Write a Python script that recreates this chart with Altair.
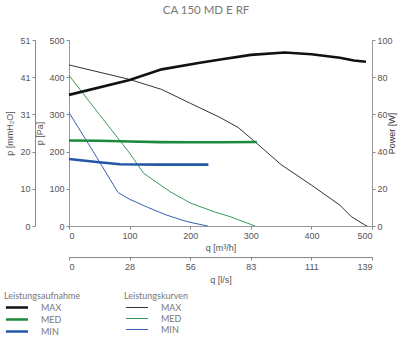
import altair as alt
import pandas as pd

# ---- data ----
series_order = ["MAX", "MED", "MIN"]

# Pressure curves (Leistungskurven), q [m3/h] -> p [Pa]
q_p_max = [0, 100, 153, 200, 249, 279, 310, 350, 400, 447, 466, 488, 492]
p_max = [433, 394, 367, 330, 292, 265, 222, 165, 110, 56, 25, 3, 0]
q_p_med = [0, 50, 100, 123, 167, 200, 240, 266, 307]
p_med = [405, 300, 196, 142, 92, 62, 38, 25, 0]
q_p_min = [0, 40, 81, 100, 130, 160, 190, 205, 229]
p_min = [305, 200, 90, 72, 50, 30, 14, 8, 0]

# Power curves (Leistungsaufnahme), q [m3/h] -> W
q_w_max = [0, 100, 153, 216, 250, 300, 356, 400, 447, 470, 490]
w_max = [70.5, 78.5, 84.2, 87.8, 89.5, 92, 93.3, 92.3, 90.5, 89, 88.3]
q_w_med = [0, 50, 100, 150, 200, 250, 310]
w_med = [46, 45.8, 45.4, 45.1, 45, 45, 45.2]
q_w_min = [0, 50, 84, 150, 230]
w_min = [36, 34.3, 33.2, 33, 33]

# axis tick values / labels
q_ticks = [0, 50, 100, 150, 200, 250, 300, 350, 400, 450, 500]
p_ticks = [0, 50, 100, 150, 200, 250, 300, 350, 400, 450, 500]
w_ticks = [0, 20, 40, 60, 80, 100]
ls_ticks = [0, 27.78, 55.56, 83.33, 111.11, 138.89]   # labels 0 28 56 83 111 139
mm_ticks = [0, 10.197, 20.394, 30.591, 40.789, 50.986]  # labels 0 10 20 31 41 51
ls_max = 138.89
mm_max = 50.986

thick_colors = ["#111111", "#1c8a3c", "#2456a8"]
thin_colors = ["#333333", "#3a9a58", "#3a60b2"]


def frame(qs, vs, name, col, key):
    return pd.DataFrame({"q": qs, col: vs, key: name, "idx": range(len(qs))})


pressure_df = pd.concat([
    frame(q_p_max, p_max, "MAX", "p", "kurve"),
    frame(q_p_med, p_med, "MED", "p", "kurve"),
    frame(q_p_min, p_min, "MIN", "p", "kurve"),
])
power_df = pd.concat([
    frame(q_w_max, w_max, "MAX", "w", "aufnahme"),
    frame(q_w_med, w_med, "MED", "w", "aufnahme"),
    frame(q_w_min, w_min, "MIN", "w", "aufnahme"),
])
aux_df = pd.DataFrame({"ls": [0, ls_max], "mm": [0, mm_max]})

AX_FONT = "Liberation Sans"
LBL = "#555555"
major = "datum.value % 100 === 0"
LINE_SYMBOL = "M-1,0H7.5"  # horizontal line used as legend symbol

pressure = alt.Chart(pressure_df).mark_line(strokeWidth=1).encode(
    x=alt.X("q:Q", scale=alt.Scale(domain=[0, 500], nice=False),
            axis=alt.Axis(values=q_ticks, title="q [m³/h]", orient="bottom",
                          labelExpr="datum.value % 100 === 0 ? datum.label : ''",
                          tickColor={"condition": {"test": major, "value": "#888888"}, "value": "transparent"},
                          gridColor={"condition": {"test": major, "value": "#9a9a9a"}, "value": "#dddddd"},
                          domainColor="#999999", tickSize=3, labelPadding=2, titlePadding=3)),
    y=alt.Y("p:Q", scale=alt.Scale(domain=[0, 500], nice=False),
            axis=alt.Axis(values=p_ticks, title="p [Pa]", orient="left",
                          labelExpr="datum.value % 100 === 0 ? datum.label : ''",
                          tickColor={"condition": {"test": major, "value": "#888888"}, "value": "transparent"},
                          gridColor={"condition": {"test": major, "value": "#9a9a9a"}, "value": "#dddddd"},
                          domainColor="#999999", tickSize=3, labelPadding=2, titlePadding=4)),
    stroke=alt.Stroke("kurve:N", scale=alt.Scale(domain=series_order, range=thin_colors),
                      legend=alt.Legend(title="Leistungskurven", orient="none", legendX=55, legendY=252,
                                        symbolType=LINE_SYMBOL, symbolStrokeWidth=1, symbolSize=27,
                                        labelOffset=28)),
    detail="kurve:N",
    order="idx:Q",
)

power = alt.Chart(power_df).mark_line(strokeWidth=2.6).encode(
    x=alt.X("q:Q", scale=alt.Scale(domain=[0, 500], nice=False), axis=None),
    y=alt.Y("w:Q", scale=alt.Scale(domain=[0, 100], nice=False),
            axis=alt.Axis(values=w_ticks, orient="right", grid=False, title="Power [W]",
                          titleAngle=270, domainColor="#999999", tickColor="#888888",
                          tickSize=3, labelPadding=2, titlePadding=4, titleColor="#333333")),
    color=alt.Color("aufnahme:N", scale=alt.Scale(domain=series_order, range=thick_colors),
                    legend=alt.Legend(title="Leistungsaufnahme", orient="none", legendX=-65, legendY=252,
                                      symbolType=LINE_SYMBOL, symbolStrokeWidth=2.5, symbolSize=27,
                                      labelOffset=28)),
    detail="aufnahme:N",
    order="idx:Q",
)

aux = alt.Chart(aux_df).mark_point(opacity=0).encode(
    x=alt.X("ls:Q", scale=alt.Scale(domain=[0, ls_max], nice=False),
            axis=alt.Axis(values=ls_ticks, format=".0f", orient="bottom", offset=31, grid=False,
                          title="q [l/s]", domainColor="#888888", tickColor="#888888",
                          tickSize=3, labelPadding=2, titlePadding=4)),
    y=alt.Y("mm:Q", scale=alt.Scale(domain=[0, mm_max], nice=False),
            axis=alt.Axis(values=mm_ticks, format=".0f", orient="left", offset=34, grid=False,
                          title="p [mmH₂O]", domainColor="#888888", tickColor="#888888",
                          tickSize=3, labelPadding=2, titlePadding=5)),
)

chart = alt.layer(aux, pressure, power).resolve_scale(
    x="independent", y="independent", color="independent", stroke="independent"
).resolve_legend(
    color="independent", stroke="independent"
).properties(
    width=303, height=186,
    padding={"left": 69, "top": 40, "right": 41, "bottom": 114},
    autosize=alt.AutoSizeParams(type="none"),
    title=alt.TitleParams("CA 150 MD E RF", fontSize=11.5, font="Lato", fontWeight="normal",
                          color="#777777", anchor="middle", frame="bounds", offset=20, dx=6),
).configure_axis(
    labelFont=AX_FONT, titleFont=AX_FONT, labelFontSize=9, titleFontSize=9,
    labelColor=LBL, titleColor=LBL, titleFontWeight="normal",
).configure_legend(
    labelFont="Lato", titleFont="Lato", labelFontSize=9, titleFontSize=9,
    labelColor="#777777", titleColor="#777777", titleFontWeight="normal",
    rowPadding=1, titlePadding=2,
).configure_view(stroke=None)

chart.save("out.html", embed_options={"renderer": "svg", "actions": False})
